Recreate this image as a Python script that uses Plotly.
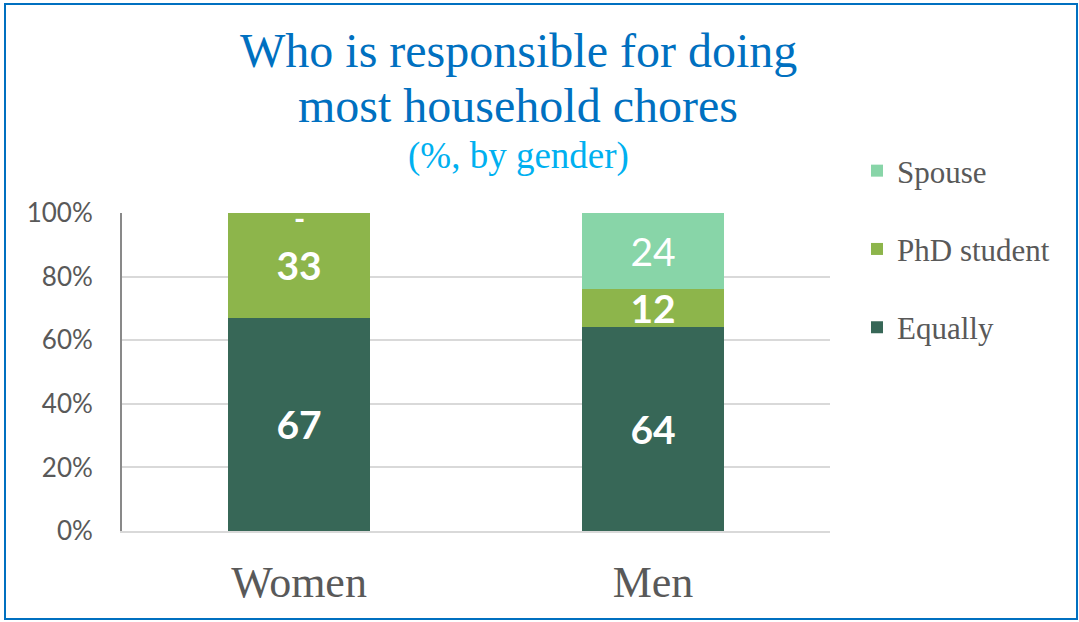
import plotly.graph_objects as go

categories = ["Women", "Men"]
equally = [67, 64]
phd_student = [33, 12]
spouse = [0, 24]
y_ticks = [0, 20, 40, 60, 80, 100]
y_tick_labels = ["0%", "20%", "40%", "60%", "80%", "100%"]

series = [
    ("Equally", equally, "#376757", True, 3),
    ("PhD student", phd_student, "#8DB54B", True, 2),
    ("Spouse", spouse, "#88D5A8", False, 1),
]

W, H = 1079, 622
L, R, T, B = 122, 249, 213, 91
pw, ph = W - L - R, H - T - B

fig = go.Figure()
for name, vals, color, bold, rank in series:
    txt = [(f"<b>{v}</b>" if bold else str(v)) if v > 0 else "" for v in vals]
    fig.add_trace(go.Bar(
        name=name, x=categories, y=vals, marker=dict(color=color, line=dict(width=0)),
        text=txt, textposition="inside", insidetextanchor="middle", textangle=0,
        textfont=dict(family="Lato", size=39, color="white"),
        constraintext="none", legendgroup=name, legendrank=rank, hoverinfo="skip",
    ))

annotations = []
# zero-valued segments shown as "-"
for j, cat in enumerate(categories):
    cum = 0
    for name, vals, color, bold, rank in series:
        cum += vals[j]
        if vals[j] == 0:
            annotations.append(dict(x=cat, y=cum, xref="x", yref="y", text="<b>-</b>",
                                    showarrow=False, yanchor="top", yshift=15,
                                    font=dict(family="Lato", size=30, color="white")))

def py(pix):
    return (H - B - pix) / ph

def px(pix):
    return (pix - L) / pw

annotations += [
    dict(x=px(518), y=py(50), xref="paper", yref="paper", text="Who is responsible for doing",
         showarrow=False, font=dict(family="Liberation Serif", size=48, color="#0070C0"),
         xanchor="center", yanchor="middle"),
    dict(x=px(518), y=py(105), xref="paper", yref="paper", text="most household chores",
         showarrow=False, font=dict(family="Liberation Serif", size=48, color="#0070C0"),
         xanchor="center", yanchor="middle"),
    dict(x=px(518), y=py(156), xref="paper", yref="paper", text="(%, by gender)",
         showarrow=False, font=dict(family="Liberation Serif", size=37, color="#00B0F0"),
         xanchor="center", yanchor="middle"),
]

fig.update_layout(
    width=W, height=H,
    margin=dict(l=L, r=R, t=T, b=B, pad=0),
    paper_bgcolor="white", plot_bgcolor="white",
    barmode="stack", bargap=0.6,
    showlegend=True,
    legend=dict(x=px(857), y=py(144), xanchor="left", yanchor="top",
                traceorder="grouped", tracegroupgap=35,
                font=dict(family="Liberation Serif", size=31, color="#595959"),
                itemwidth=30, bgcolor="rgba(0,0,0,0)"),
    annotations=annotations,
    xaxis=dict(showline=True, linecolor="#D9D9D9", linewidth=2, showgrid=False,
               ticks="", tickfont=dict(family="Liberation Serif", size=44, color="#595959"),
               ticklabelstandoff=11),
    yaxis=dict(range=[0, 100], tickvals=y_ticks, ticktext=y_tick_labels,
               showline=True, linecolor="#898989", linewidth=2,
               showgrid=True, gridcolor="#D9D9D9", gridwidth=2, zeroline=False,
               ticks="", tickfont=dict(family="Lato", size=26, color="#595959"),
               ticklabelstandoff=22),
    shapes=[dict(type="rect", xref="paper", yref="paper",
                 x0=px(5), x1=px(1077), y0=py(619), y1=py(4),
                 line=dict(color="#0070C0", width=2), fillcolor="rgba(0,0,0,0)", layer="below")],
)

fig.write_html("out.html", config={"displayModeBar": False},
               post_script="document.body.style.margin='0';document.body.style.overflow='hidden';")
